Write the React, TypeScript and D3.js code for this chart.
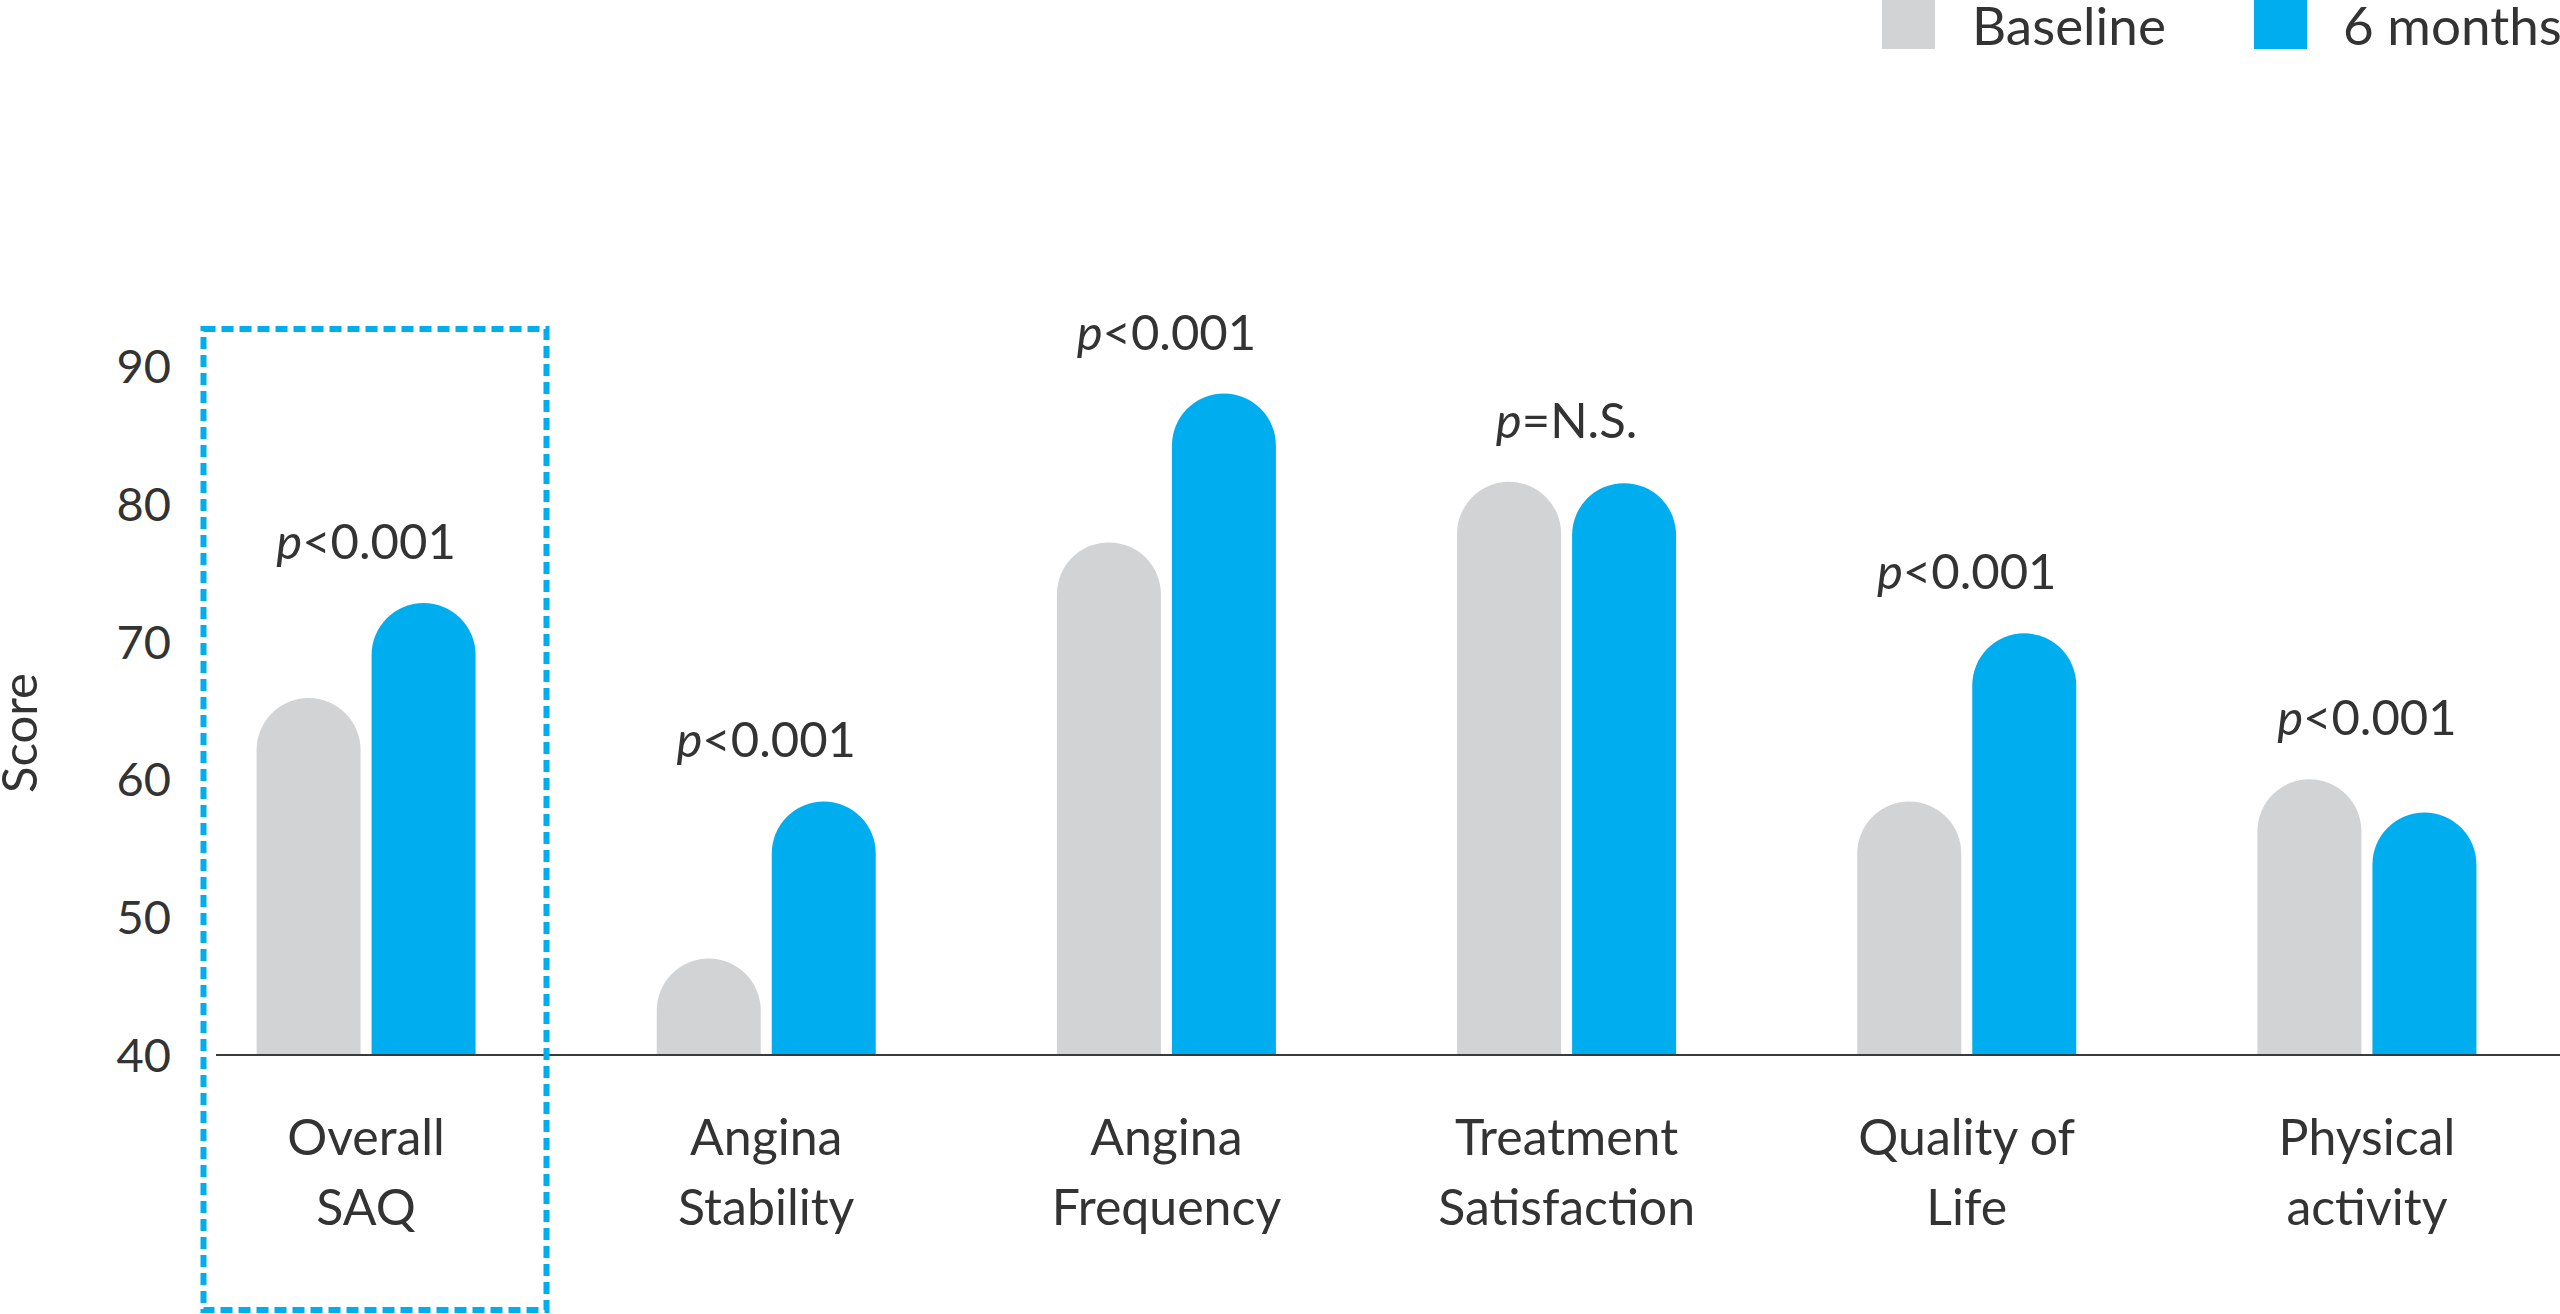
import React from "react";
import * as d3 from "d3";

const categories = ["Overall SAQ", "Angina Stability", "Angina Frequency", "Treatment Satisfaction", "Quality of Life", "Physical activity"];
const categoryLines = [["Overall", "SAQ"], ["Angina", "Stability"], ["Angina", "Frequency"], ["Treatment", "Satisfaction"], ["Quality of", "Life"], ["Physical", "activity"]];
const series = ["Baseline", "6 months"];
const baseline = [65.9, 47.0, 77.2, 81.6, 58.4, 60.0];
const sixMonths = [72.8, 58.4, 88.0, 81.5, 70.6, 57.6];
const pOperators = ["<0.001", "<0.001", "<0.001", "=N.S.", "<0.001", "<0.001"];
const yTicks = [40, 50, 60, 70, 80, 90];

const W = 2560;
const H = 1314;
const GRAY = "#D2D3D5";
const BLUE = "#00AEEF";
const TEXT = "#333333";
const FONT = "Lato, 'Open Sans', sans-serif";

export default function App() {
  const y = d3.scaleLinear().domain([40, 90]).range([1055, 366]);
  const x0 = d3.scaleBand<string>().domain(categories).range([166, 2567]).padding(0);
  const x1 = d3.scaleBand<string>().domain(series).range([-109.5, 109.5]).paddingInner(0.0957).paddingOuter(0);
  const bw = x1.bandwidth();
  const r = bw / 2;
  const colors = [GRAY, BLUE];
  const values = [baseline, sixMonths];

  const barPath = (xl: number, v: number) => {
    const top = y(v);
    const y0 = y(40);
    const p = d3.path();
    p.moveTo(xl, y0);
    p.lineTo(xl, top + r);
    p.arc(xl + r, top + r, r, Math.PI, 0, false);
    p.lineTo(xl + bw, y0);
    p.closePath();
    return p.toString();
  };

  return (
    <svg width={W} height={H} style={{ position: "absolute", left: 0, top: 0, display: "block", background: "#fff" }} fontFamily={FONT}>
      {/* legend */}
      <rect x={1882} y={-4} width={53} height={53} fill={GRAY} />
      <text x={1972} y={45} fontSize={53} fill={TEXT}>{series[0]}</text>
      <rect x={2254} y={-4} width={53} height={53} fill={BLUE} />
      <text x={2343} y={45} fontSize={53} fill={TEXT}>{series[1]}</text>

      {/* y axis label */}
      <text transform={`translate(37,733) rotate(-90)`} textAnchor="middle" fontSize={49} fill={TEXT}>Score</text>

      {/* y ticks */}
      {yTicks.map((t) => (
        <text key={t} x={171} y={y(t)} dy="0.36em" textAnchor="end" fontSize={47} fill={TEXT}>{t}</text>
      ))}

      {/* bars */}
      {categories.map((c, i) => {
        const cx = (x0(c) as number) + x0.bandwidth() / 2;
        return (
          <g key={c}>
            {series.map((s, j) => (
              <path key={s} d={barPath(cx + (x1(s) as number), values[j][i])} fill={colors[j]} />
            ))}
          </g>
        );
      })}

      {/* axis line */}
      <line x1={216} x2={W} y1={y(40)} y2={y(40)} stroke="#3a3a3a" strokeWidth={2} />

      {/* p-values */}
      {categories.map((c, i) => {
        const cx = (x0(c) as number) + x0.bandwidth() / 2;
        const top = y(Math.max(baseline[i], sixMonths[i]));
        return (
          <text key={c} x={cx} y={top - 44} textAnchor="middle" fontSize={49} fill={TEXT}>
            <tspan fontStyle="italic">p</tspan>
            <tspan>{pOperators[i]}</tspan>
          </text>
        );
      })}

      {/* category labels */}
      {categories.map((c, i) => {
        const cx = (x0(c) as number) + x0.bandwidth() / 2;
        return (
          <text key={c} x={cx} textAnchor="middle" fontSize={50} fill={TEXT}>
            {categoryLines[i].map((ln, k) => (
              <tspan key={k} x={cx} y={1155 + k * 70}>{ln}</tspan>
            ))}
          </text>
        );
      })}

      {/* highlight box */}
      <rect x={203.5} y={329} width={343} height={981} fill="none" stroke={BLUE} strokeWidth={6} strokeDasharray="12 6" />
    </svg>
  );
}
